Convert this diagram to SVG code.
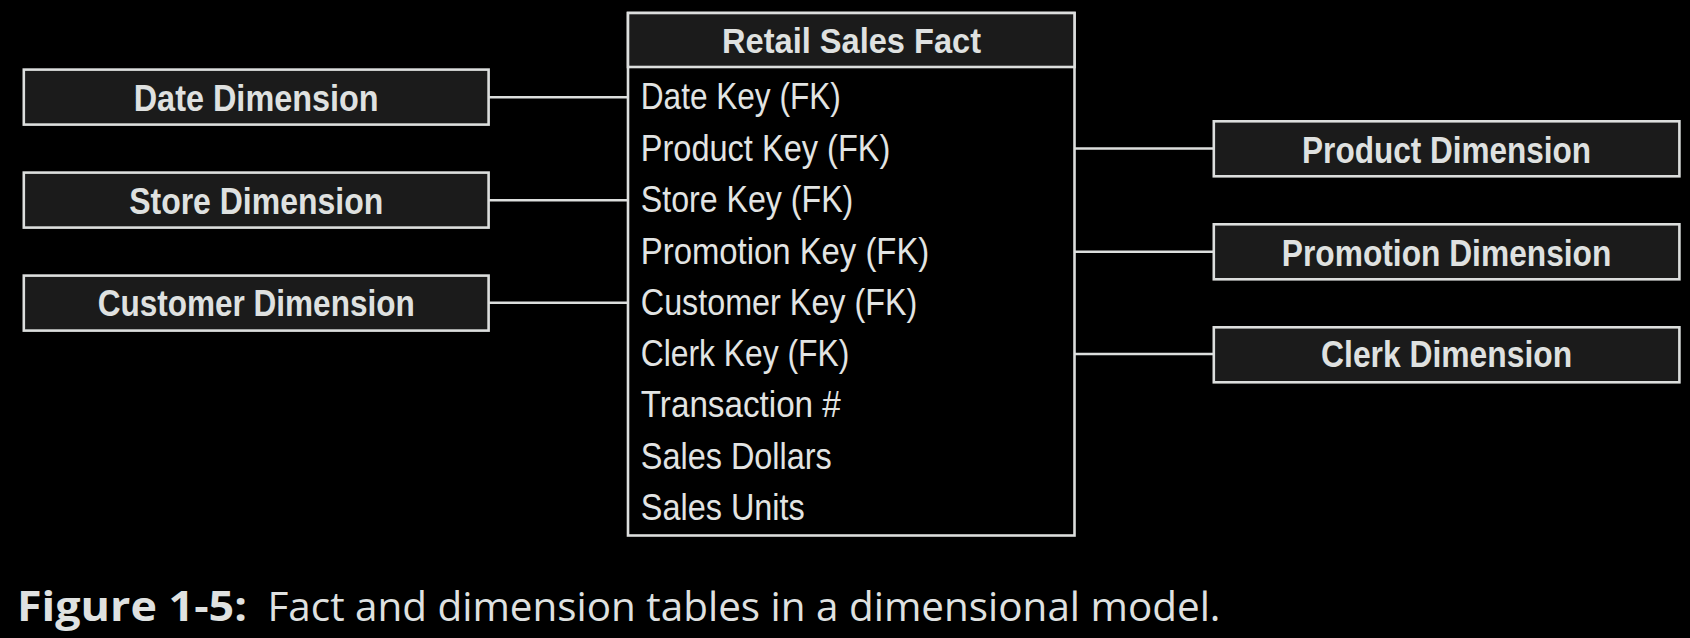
<svg xmlns="http://www.w3.org/2000/svg" width="1690" height="638" viewBox="0 0 1690 638">
<style>
.bg{fill:#000}
.box{fill:#1b1b1b;stroke:#dcdedd;stroke-width:2.6}
.body{fill:#000;stroke:#dcdedd;stroke-width:2.6}
.conn line{stroke:#dcdedd;stroke-width:2.6}
.dim{font-family:"Liberation Sans Narrow","Liberation Sans",Arial,sans-serif;font-weight:bold;font-size:37.5px;fill:#dfe1e0;text-anchor:middle}
.hdr{font-family:"Liberation Sans Narrow","Liberation Sans",Arial,sans-serif;font-weight:bold;font-size:35px;fill:#dfe1e0;text-anchor:middle}
.fld{font-family:"Liberation Sans Narrow","Liberation Sans",Arial,sans-serif;font-size:36px;fill:#e2e4e3}
.cap{font-family:"Open Sans","Noto Sans",sans-serif;font-size:41px;fill:#dfe1e0}
.capb{font-weight:bold}
</style>
<rect class="bg" x="0" y="0" width="1690" height="638"/>
<g class="conn" id="connectors">
<line x1="489" y1="97.3" x2="628" y2="97.3"/>
<line x1="489" y1="200.3" x2="628" y2="200.3"/>
<line x1="489" y1="302.7" x2="628" y2="302.7"/>
<line x1="1075" y1="148.5" x2="1214" y2="148.5"/>
<line x1="1075" y1="251.7" x2="1214" y2="251.7"/>
<line x1="1075" y1="354" x2="1214" y2="354"/>
</g>
<g id="fact">
<rect class="body" x="628" y="13" width="446.5" height="522.5"/>
<rect class="box" x="628" y="13" width="446.5" height="54"/>
<text class="hdr" x="851.5" y="53.3" textLength="259" lengthAdjust="spacingAndGlyphs">Retail Sales Fact</text>
<text class="fld" x="640.8" y="109.3" textLength="200" lengthAdjust="spacingAndGlyphs">Date Key (FK)</text>
<text class="fld" x="640.8" y="160.7" textLength="249.5" lengthAdjust="spacingAndGlyphs">Product Key (FK)</text>
<text class="fld" x="640.8" y="212.3" textLength="212.5" lengthAdjust="spacingAndGlyphs">Store Key (FK)</text>
<text class="fld" x="640.8" y="263.5" textLength="288.5" lengthAdjust="spacingAndGlyphs">Promotion Key (FK)</text>
<text class="fld" x="640.8" y="314.5" textLength="276.5" lengthAdjust="spacingAndGlyphs">Customer Key (FK)</text>
<text class="fld" x="640.8" y="366" textLength="208.5" lengthAdjust="spacingAndGlyphs">Clerk Key (FK)</text>
<text class="fld" x="640.8" y="417.3" textLength="200" lengthAdjust="spacingAndGlyphs">Transaction #</text>
<text class="fld" x="640.8" y="469" textLength="191" lengthAdjust="spacingAndGlyphs">Sales Dollars</text>
<text class="fld" x="640.8" y="520" textLength="164" lengthAdjust="spacingAndGlyphs">Sales Units</text>
</g>
<g id="date-dim">
<rect class="box" x="23.8" y="69.6" width="464.8" height="55"/>
<text class="dim" x="256.2" y="110.7" textLength="245" lengthAdjust="spacingAndGlyphs">Date Dimension</text>
</g>
<g id="store-dim">
<rect class="box" x="23.8" y="172.6" width="464.8" height="55"/>
<text class="dim" x="256.2" y="213.5" textLength="254" lengthAdjust="spacingAndGlyphs">Store Dimension</text>
</g>
<g id="customer-dim">
<rect class="box" x="23.8" y="275.6" width="464.8" height="55"/>
<text class="dim" x="256.2" y="315.5" textLength="317" lengthAdjust="spacingAndGlyphs">Customer Dimension</text>
</g>
<g id="product-dim">
<rect class="box" x="1213.8" y="121.3" width="465.6" height="55"/>
<text class="dim" x="1446.6" y="162.5" textLength="289" lengthAdjust="spacingAndGlyphs">Product Dimension</text>
</g>
<g id="promotion-dim">
<rect class="box" x="1213.8" y="224.3" width="465.6" height="55"/>
<text class="dim" x="1446.6" y="265.7" textLength="329.5" lengthAdjust="spacingAndGlyphs">Promotion Dimension</text>
</g>
<g id="clerk-dim">
<rect class="box" x="1213.8" y="327.3" width="465.6" height="55"/>
<text class="dim" x="1446.6" y="366.7" textLength="251" lengthAdjust="spacingAndGlyphs">Clerk Dimension</text>
</g>
<g id="caption">
<text class="cap capb" x="17" y="621" textLength="230" lengthAdjust="spacingAndGlyphs">Figure 1-5:</text>
<text class="cap" x="267.5" y="621" textLength="953" lengthAdjust="spacingAndGlyphs">Fact and dimension tables in a dimensional model.</text>
</g>
</svg>
